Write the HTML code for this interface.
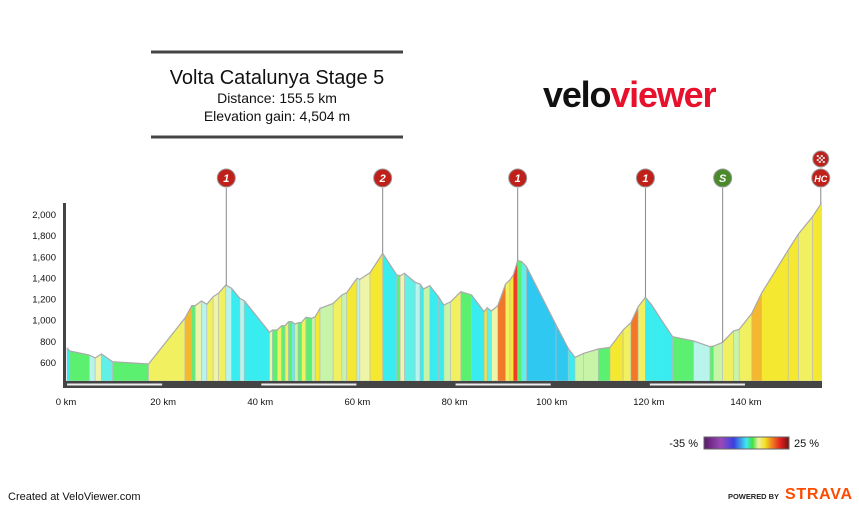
<!DOCTYPE html>
<html><head><meta charset="utf-8"><style>
body{margin:0;background:#fff;width:859px;height:506px;overflow:hidden;font-family:"Liberation Sans",sans-serif}
svg{position:absolute;left:0;top:0}
</style></head><body>
<svg id="c" width="859" height="506">
<line x1="151" y1="52" x2="403" y2="52" stroke="#444" stroke-width="3"/>
<line x1="151" y1="137" x2="403" y2="137" stroke="#444" stroke-width="3"/>
<text x="277" y="84" font-size="20" text-anchor="middle" fill="#111">Volta Catalunya Stage 5</text>
<text x="277" y="103" font-size="14" text-anchor="middle" fill="#111">Distance: 155.5 km</text>
<text x="277" y="121" font-size="14" text-anchor="middle" fill="#111">Elevation gain: 4,504 m</text>
<text x="543" y="107" font-size="36" font-weight="bold" letter-spacing="-1.5" textLength="172"><tspan fill="#111">velo</tspan><tspan fill="#e8112d">viewer</tspan></text>
<g id="prof"></g>
<g id="axes"></g>
<g id="marks"></g>
<defs><linearGradient id="lg" x1="0" x2="1">
<stop offset="0" stop-color="#5a1a6a"/><stop offset="0.2" stop-color="#9a4ab8"/><stop offset="0.35" stop-color="#3a40e0"/><stop offset="0.5" stop-color="#40e8f0"/><stop offset="0.57" stop-color="#40e040"/><stop offset="0.64" stop-color="#f0f0a0"/><stop offset="0.72" stop-color="#f0e020"/><stop offset="0.8" stop-color="#f08020"/><stop offset="0.9" stop-color="#e02020"/><stop offset="1" stop-color="#701010"/>
</linearGradient></defs>
<text x="698" y="447" font-size="11" text-anchor="end" fill="#111">-35 %</text>
<rect x="704" y="437" width="85" height="12" fill="url(#lg)" stroke="#666"/>
<text x="794" y="447" font-size="11" fill="#111">25 %</text>
<text x="8" y="500" font-size="11" fill="#111">Created at VeloViewer.com</text>
<text x="728" y="499" font-size="7.5" font-weight="bold" textLength="51" fill="#222">POWERED BY</text>
<text x="785" y="499" font-size="16" font-weight="bold" fill="#fc4c02" textLength="67">STRAVA</text>
</svg>
<script>
const kms=[0.2,0.8,4.8,6,7.3,9.6,17,24.5,25.9,26.6,27.9,29,30.3,31.4,32.9,34.1,35.8,36.7,41.9,42.5,43.5,44.4,45.1,45.8,46.5,47.1,47.8,48.5,49.4,50.6,51.3,52.3,55,56.8,57.8,59.9,60.5,62.6,65.2,68.1,68.8,69.7,71.9,72.9,73.6,74.9,76.7,77.8,79.2,81.3,83.5,86.1,86.7,87.6,88.9,90.5,91.4,92.1,93.0,93.8,94.8,100.9,103.4,104.8,106.6,109.6,112,114.7,116.3,117.8,119.3,120.6,122.6,124.9,129.2,132.6,133.3,135.2,137.4,138.6,141.2,143.2,148.7,150.8,153.7,155.5];
const elevs=[735,704,666,638,676,603,581,1016,1133,1133,1177,1146,1218,1250,1328,1297,1202,1180,881,903,903,943,943,981,981,960,970,975,1023,1013,1028,1107,1154,1234,1256,1392,1382,1445,1628,1423,1416,1439,1354,1338,1291,1322,1218,1139,1170,1265,1234,1076,1114,1083,1133,1338,1376,1423,1559,1550,1502,950,729,644,682,723,739,903,972,1123,1212,1139,997,839,799,745,750,786,893,909,1060,1250,1660,1811,1975,2101];
const yTicks=[600,800,1000,1200,1400,1600,1800,2000];
const xTicks=[0,20,40,60,80,100,120,140];
const climbKm=[33,65.2,93,119.3,135.2,155.4];
const climbLabel=['1','2','1','1','S','HC'];
const NS='http://www.w3.org/2000/svg';
const X=k=>66+k*4.857, Y=e=>362-(e-600)*0.1057, BASE=381;
function mk(t,a,p){const e=document.createElementNS(NS,t);for(const k in a)e.setAttribute(k,a[k]);p.appendChild(e);return e;}
function col(g){
 if(g<-8)return'#2ec8f0';if(g<-5)return'#38ecf0';if(g<-3)return'#60f0e8';if(g<-1.5)return'#b8f4ec';
 if(g<1)return'#5cf070';if(g<2.5)return'#c8f4a8';if(g<4)return'#eef4a8';if(g<6)return'#f0f060';if(g<8)return'#f4e830';if(g<10)return'#f4b830';if(g<13)return'#f07828';return'#f03c28';}
const prof=document.getElementById('prof');
for(let i=0;i<kms.length-1;i++){
 const g=(elevs[i+1]-elevs[i])/((kms[i+1]-kms[i])*1000)*100;
 const p=mk('polygon',{points:`${X(kms[i])},${BASE} ${X(kms[i])},${Y(elevs[i])} ${X(kms[i+1])},${Y(elevs[i+1])} ${X(kms[i+1])},${BASE}`,fill:col(g),stroke:'#bbb','stroke-width':0.6},prof);
 
 
}
const line=mk('polyline',{points:kms.map((k,i)=>X(k)+','+Y(elevs[i])).join(' '),fill:'none',stroke:'#aaa','stroke-width':1.2},prof);


const ax=document.getElementById('axes');
mk('rect',{x:63,y:203,width:3,height:185,fill:'#444'},ax);
mk('rect',{x:63,y:381,width:759,height:7,fill:'#444'},ax);
for(let i=0;i<xTicks.length;i+=2){const r=mk('rect',{x:X(xTicks[i])+1,y:383.5,width:X(20)-X(0)-2,height:2,fill:'#eee'},ax);
 
 }
yTicks.forEach(v=>{const t=mk('text',{x:56,y:Y(v)+4,'font-size':9.5,'text-anchor':'end',fill:'#111'},ax);t.textContent=v.toLocaleString('en-US');
 
 });
xTicks.forEach(v=>{const t=mk('text',{x:X(v),y:405,'font-size':9.5,'text-anchor':'middle',fill:'#111'},ax);t.textContent=v+' km';
 
 });
const mg=document.getElementById('marks');
function elevAt(k){for(let i=0;i<kms.length-1;i++)if(k>=kms[i]&&k<=kms[i+1])return elevs[i]+(elevs[i+1]-elevs[i])*(k-kms[i])/(kms[i+1]-kms[i]);return elevs[elevs.length-1];}
climbKm.forEach((k,i)=>{
 const x=X(k);
 const l=mk('line',{x1:x,y1:188,x2:x,y2:Y(elevAt(k)),stroke:'#888','stroke-width':1},mg);
 
 
 const c=mk('circle',{cx:x,cy:178,r:9,fill:climbLabel[i]==='S'?'#4a8a2a':'#c0201a',stroke:'#999','stroke-width':1},mg);
 
 
 const t=mk('text',{x:x,y:182,'font-size':climbLabel[i].length>1?9:11,'font-weight':'bold','font-style':'italic','text-anchor':'middle',fill:'#fff'},mg);
 t.textContent=climbLabel[i];
 
 
});
const fx=X(climbKm[climbKm.length-1]);
const fc=mk('circle',{cx:fx,cy:159,r:8,fill:'#c0201a',stroke:'#999'},mg);


for(let a=0;a<4;a++)for(let b=0;b<4;b++)if((a+b)%2===0)mk('rect',{x:fx-4+a*2,y:155+b*2,width:2,height:2,fill:'#ddd'},mg);
</script>
</body></html>
